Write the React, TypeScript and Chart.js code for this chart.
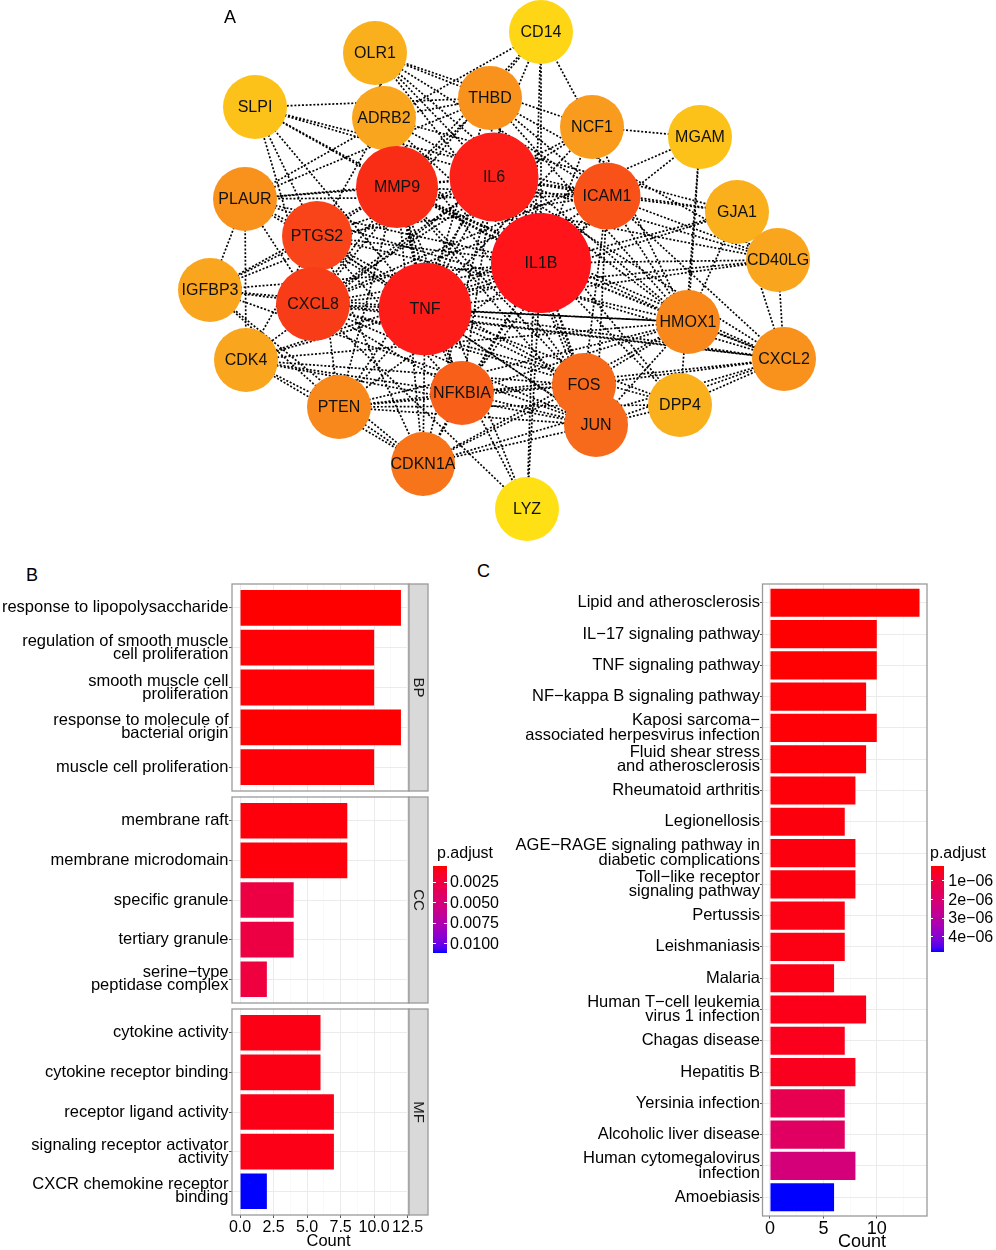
import React, { useEffect, useRef } from "react";
import { Chart, registerables } from "chart.js";

Chart.register(...registerables);

const FONT = "'Liberation Sans', Arial, Helvetica, sans-serif";
Chart.defaults.font.family = FONT;

/* ================= Panel A : PPI network ================= */
const NODE_NAMES = ["CD14", "OLR1", "SLPI", "ADRB2", "THBD", "NCF1", "MGAM", "IL6", "MMP9", "ICAM1", "PLAUR", "GJA1", "PTGS2", "IL1B", "CD40LG", "IGFBP3", "CXCL8", "TNF", "HMOX1", "CDK4", "CXCL2", "FOS", "NFKBIA", "PTEN", "DPP4", "JUN", "CDKN1A", "LYZ"];
// layout coordinates of the network (x to the right, y downwards)
const NODE_X = [541, 375, 255, 384, 490, 592, 700, 494, 397, 607, 245, 737, 317, 541, 778, 210, 313, 425, 688, 246, 784, 584, 462, 339, 680, 596, 423, 527];
const NODE_Y = [32, 53, 107, 118, 98, 127, 137, 177, 187, 196, 199, 212, 236, 263, 260, 290, 304, 309, 322, 360, 359, 385, 393, 407, 405, 425, 464, 509];
// connectivity degree (drives node colour and size)
const NODE_DEGREE = [4, 8, 6, 9, 11, 10, 6, 24, 21, 17, 11, 8, 18, 27, 9, 9, 19, 25, 12, 9, 11, 15, 16, 12, 8, 15, 14, 3];

const EDGES = [
  "IL1B-TNF", "IL1B-IL6", "IL1B-MMP9", "IL1B-ICAM1", "IL1B-PTGS2", "IL1B-CXCL8", "IL1B-NFKBIA", "IL1B-FOS", "IL1B-JUN", "IL1B-CDKN1A", "IL1B-HMOX1", "IL1B-PTEN", "IL1B-THBD", "IL1B-NCF1", "IL1B-PLAUR", "IL1B-CXCL2", "IL1B-ADRB2", "IL1B-CDK4", "IL1B-IGFBP3", "IL1B-OLR1", "IL1B-GJA1", "IL1B-CD40LG", "IL1B-DPP4", "IL1B-SLPI", "IL1B-MGAM", "IL1B-CD14", "IL1B-LYZ",
  "TNF-IL6", "TNF-MMP9", "TNF-ICAM1", "TNF-PTGS2", "TNF-CXCL8", "TNF-NFKBIA", "TNF-FOS", "TNF-JUN", "TNF-CDKN1A", "TNF-HMOX1", "TNF-PTEN", "TNF-THBD", "TNF-NCF1", "TNF-PLAUR", "TNF-CXCL2", "TNF-ADRB2", "TNF-CDK4", "TNF-IGFBP3", "TNF-OLR1", "TNF-GJA1", "TNF-CD40LG", "TNF-DPP4", "TNF-SLPI", "TNF-CD14", "TNF-LYZ",
  "IL6-MMP9", "IL6-ICAM1", "IL6-PTGS2", "IL6-CXCL8", "IL6-NFKBIA", "IL6-FOS", "IL6-JUN", "IL6-CDKN1A", "IL6-HMOX1", "IL6-PTEN", "IL6-THBD", "IL6-NCF1", "IL6-PLAUR", "IL6-CXCL2", "IL6-ADRB2", "IL6-CDK4", "IL6-IGFBP3", "IL6-OLR1", "IL6-GJA1", "IL6-CD40LG", "IL6-DPP4", "IL6-SLPI",
  "MMP9-ICAM1", "MMP9-PTGS2", "MMP9-CXCL8", "MMP9-NFKBIA", "MMP9-FOS", "MMP9-JUN", "MMP9-CDKN1A", "MMP9-HMOX1", "MMP9-PTEN", "MMP9-THBD", "MMP9-PLAUR", "MMP9-CXCL2", "MMP9-IGFBP3", "MMP9-OLR1", "MMP9-CD40LG", "MMP9-SLPI", "MMP9-CD14", "MMP9-LYZ",
  "ICAM1-PTGS2", "ICAM1-CXCL8", "ICAM1-NFKBIA", "ICAM1-FOS", "ICAM1-JUN", "ICAM1-HMOX1", "ICAM1-THBD", "ICAM1-NCF1", "ICAM1-PLAUR", "ICAM1-CXCL2", "ICAM1-OLR1", "ICAM1-GJA1", "ICAM1-CD40LG", "ICAM1-SLPI",
  "PTGS2-CXCL8", "PTGS2-NFKBIA", "PTGS2-FOS", "PTGS2-JUN", "PTGS2-CDKN1A", "PTGS2-HMOX1", "PTGS2-PTEN", "PTGS2-PLAUR", "PTGS2-ADRB2", "PTGS2-CDK4", "PTGS2-IGFBP3", "PTGS2-SLPI",
  "CXCL8-NFKBIA", "CXCL8-FOS", "CXCL8-JUN", "CXCL8-HMOX1", "CXCL8-NCF1", "CXCL8-PLAUR", "CXCL8-CXCL2", "CXCL8-CD40LG", "CXCL8-SLPI", "CXCL8-CD14", "CXCL8-DPP4", "CXCL8-MGAM", "CXCL8-LYZ",
  "NFKBIA-FOS", "NFKBIA-JUN", "NFKBIA-CDKN1A", "NFKBIA-HMOX1", "NFKBIA-PTEN", "NFKBIA-CDK4", "NFKBIA-CXCL2",
  "FOS-JUN", "FOS-CDKN1A", "FOS-HMOX1", "FOS-PTEN", "FOS-CDK4", "FOS-CXCL2", "FOS-ADRB2",
  "JUN-CDKN1A", "JUN-HMOX1", "JUN-PTEN", "JUN-CDK4", "JUN-CXCL2", "JUN-IGFBP3", "JUN-DPP4",
  "CDKN1A-HMOX1", "CDKN1A-PTEN", "CDKN1A-CDK4", "CDKN1A-IGFBP3", "CDKN1A-CXCL2",
  "HMOX1-PTEN", "HMOX1-NCF1", "HMOX1-THBD", "HMOX1-GJA1", "HMOX1-CXCL2", "HMOX1-CDK4", "HMOX1-OLR1", "HMOX1-MGAM",
  "PTEN-CDK4", "PTEN-IGFBP3", "PTEN-DPP4", "THBD-PLAUR", "THBD-CD40LG", "THBD-OLR1", "THBD-SLPI", "THBD-ADRB2",
  "NCF1-MGAM", "NCF1-CD14", "NCF1-OLR1", "PLAUR-IGFBP3", "PLAUR-CDK4", "PLAUR-CXCL2", "ADRB2-GJA1", "ADRB2-OLR1",
  "CD14-LYZ", "CD14-PLAUR", "MGAM-DPP4", "CXCL2-DPP4", "GJA1-CD40LG", "GJA1-CXCL2", "CD40LG-CXCL2", "IGFBP3-CXCL2",
];

/* ================= Panel B : GO enrichment ================= */
const BP_TERMS = ["response to lipopolysaccharide", "regulation of smooth muscle\ncell proliferation", "smooth muscle cell\nproliferation", "response to molecule of\nbacterial origin", "muscle cell proliferation"];
const BP_COUNT = [12, 10, 10, 12, 10];
const BP_PADJ = [0.00052, 0.0006, 0.0006, 0.00055, 0.00065];

const CC_TERMS = ["membrane raft", "membrane microdomain", "specific granule", "tertiary granule", "serine\u2212type\npeptidase complex"];
const CC_COUNT = [8, 8, 4, 4, 2];
const CC_PADJ = [0.0007, 0.0007, 0.0026, 0.0026, 0.0024];

const MF_TERMS = ["cytokine activity", "cytokine receptor binding", "receptor ligand activity", "signaling receptor activator\nactivity", "CXCR chemokine receptor\nbinding"];
const MF_COUNT = [6, 6, 7, 7, 2];
const MF_PADJ = [0.0009, 0.0009, 0.00095, 0.00095, 0.01106];

const B_X_TICKS = [0, 2.5, 5, 7.5, 10, 12.5];
const B_X_MINOR = [1.25, 3.75, 6.25, 8.75, 11.25];
const B_PADJ_TICKS = [0.0025, 0.005, 0.0075, 0.01];

/* ================= Panel C : KEGG enrichment ================= */
const C_TERMS = ["Lipid and atherosclerosis", "IL\u221217 signaling pathway", "TNF signaling pathway", "NF\u2212kappa B signaling pathway", "Kaposi sarcoma\u2212\nassociated herpesvirus infection", "Fluid shear stress\nand atherosclerosis", "Rheumatoid arthritis", "Legionellosis", "AGE\u2212RAGE signaling pathway in\ndiabetic complications", "Toll\u2212like receptor\nsignaling pathway", "Pertussis", "Leishmaniasis", "Malaria", "Human T\u2212cell leukemia\nvirus 1 infection", "Chagas disease", "Hepatitis B", "Yersinia infection", "Alcoholic liver disease", "Human cytomegalovirus\ninfection", "Amoebiasis"];
const C_COUNT = [14, 10, 10, 9, 10, 9, 8, 7, 8, 8, 7, 7, 6, 9, 7, 8, 7, 7, 8, 6];
const C_PADJ = [1.76e-7, 1.9e-7, 1.95e-7, 2.1e-7, 2.2e-7, 2.3e-7, 2.5e-7, 2.7e-7, 2.9e-7, 3.0e-7, 3.3e-7, 3.4e-7, 3.6e-7, 3.8e-7, 4.4e-7, 4.8e-7, 1.35e-6, 1.7e-6, 2.2e-6, 4.84e-6];
const C_X_TICKS = [0, 5, 10];
const C_X_MINOR = [2.5, 7.5, 12.5];
const C_PADJ_TICKS = [1e-6, 2e-6, 3e-6, 4e-6];

/* ================= styling helpers ================= */
const DEGREE_COLOR_STOPS: [number, string][] = [[3, "#FFE014"], [6, "#FCC21A"], [9, "#F9A51D"], [12, "#F8881C"], [16, "#F8601A"], [18, "#F84418"], [21, "#F92C16"], [27, "#FF1419"]];
const DEGREE_RADIUS_STOPS: [number, number][] = [[0, 32], [16, 32], [18, 35], [21, 41], [24, 44.5], [27, 50]];

function hexRgb(h: string) {
  return [parseInt(h.slice(1, 3), 16), parseInt(h.slice(3, 5), 16), parseInt(h.slice(5, 7), 16)];
}
function degColor(d: number) {
  const s = DEGREE_COLOR_STOPS;
  if (d <= s[0][0]) return s[0][1];
  for (let i = 1; i < s.length; i++) {
    if (d <= s[i][0]) {
      const t = (d - s[i - 1][0]) / (s[i][0] - s[i - 1][0]);
      const a = hexRgb(s[i - 1][1]), b = hexRgb(s[i][1]);
      const c = a.map((v, k) => Math.round(v + (b[k] - v) * t));
      return `rgb(${c[0]},${c[1]},${c[2]})`;
    }
  }
  return s[s.length - 1][1];
}
function degRadius(d: number) {
  const s = DEGREE_RADIUS_STOPS;
  for (let i = 1; i < s.length; i++) {
    if (d <= s[i][0]) {
      const t = (d - s[i - 1][0]) / (s[i][0] - s[i - 1][0]);
      return s[i - 1][1] + (s[i][1] - s[i - 1][1]) * t;
    }
  }
  return s[s.length - 1][1];
}

// CIELAB interpolation red -> blue (like ggplot's continuous colour scale)
function rgbToLab(rgb: number[]) {
  const lin = (c: number) => { c /= 255; return c <= 0.04045 ? c / 12.92 : Math.pow((c + 0.055) / 1.055, 2.4); };
  const [R, G, B] = rgb.map(lin);
  const X = (0.4124564 * R + 0.3575761 * G + 0.1804375 * B) / 0.95047;
  const Y = 0.2126729 * R + 0.7151522 * G + 0.072175 * B;
  const Z = (0.0193339 * R + 0.119192 * G + 0.9503041 * B) / 1.08883;
  const f = (t: number) => (t > 216 / 24389 ? Math.cbrt(t) : (24389 / 27 * t + 16) / 116);
  const fx = f(X), fy = f(Y), fz = f(Z);
  return [116 * fy - 16, 500 * (fx - fy), 200 * (fy - fz)];
}
function labToRgb(lab: number[]) {
  const [L, a, b] = lab;
  const fy = (L + 16) / 116, fx = fy + a / 500, fz = fy - b / 200;
  const inv = (t: number) => (t * t * t > 216 / 24389 ? t * t * t : (116 * t - 16) / (24389 / 27));
  const X = inv(fx) * 0.95047, Y = inv(fy), Z = inv(fz) * 1.08883;
  const R = 3.2404542 * X - 1.5371385 * Y - 0.4985314 * Z;
  const G = -0.969266 * X + 1.8760108 * Y + 0.041556 * Z;
  const B = 0.0556434 * X - 0.2040259 * Y + 1.0572252 * Z;
  const gam = (c: number) => { c = Math.min(1, Math.max(0, c)); return c <= 0.0031308 ? 12.92 * c : 1.055 * Math.pow(c, 1 / 2.4) - 0.055; };
  return [R, G, B].map((v) => Math.round(gam(v) * 255));
}
const LAB_LOW = rgbToLab([255, 0, 0]);
const LAB_HIGH = rgbToLab([0, 0, 255]);
function rampColor(t: number) {
  const c = labToRgb(LAB_LOW.map((v, k) => v + (LAB_HIGH[k] - v) * t));
  return `rgb(${c[0]},${c[1]},${c[2]})`;
}

const B_ALL_PADJ = [...BP_PADJ, ...CC_PADJ, ...MF_PADJ];
const B_PMIN = Math.min(...B_ALL_PADJ), B_PMAX = Math.max(...B_ALL_PADJ);
const C_PMIN = Math.min(...C_PADJ), C_PMAX = Math.max(...C_PADJ);
const colorsFor = (ps: number[], lo: number, hi: number) => ps.map((p) => rampColor((p - lo) / (hi - lo)));

/* ================= plugins ================= */
const nodeLabelPlugin = {
  id: "nodeLabels",
  afterDatasetsDraw(chart: any) {
    const meta = chart.getDatasetMeta(1);
    const ctx = chart.ctx;
    ctx.save();
    ctx.font = `16px ${FONT}`;
    ctx.fillStyle = "#111";
    ctx.textAlign = "center";
    ctx.textBaseline = "middle";
    meta.data.forEach((el: any, i: number) => ctx.fillText(NODE_NAMES[i], el.x, el.y + 1));
    ctx.restore();
  },
};

const panelPlugin = {
  id: "panelDeco",
  afterDraw(chart: any, _args: any, opts: any) {
    const { ctx, chartArea: a } = chart;
    ctx.save();
    ctx.strokeStyle = "#9a9a9a";
    ctx.lineWidth = 1.3;
    ctx.strokeRect(a.left, a.top, a.right - a.left, a.bottom - a.top);
    if (opts && opts.strip) {
      const w = 19;
      ctx.fillStyle = "#D9D9D9";
      ctx.fillRect(a.right, a.top, w, a.bottom - a.top);
      ctx.strokeRect(a.right, a.top, w, a.bottom - a.top);
      ctx.translate(a.right + w / 2, (a.top + a.bottom) / 2);
      ctx.rotate(Math.PI / 2);
      ctx.fillStyle = "#1a1a1a";
      ctx.font = `15px ${FONT}`;
      ctx.textAlign = "center";
      ctx.textBaseline = "middle";
      ctx.fillText(opts.strip, 0, 0);
    }
    ctx.restore();
  },
};

/* ================= configs ================= */
function makeNetworkConfig(): any {
  const idx = new Map(NODE_NAMES.map((n, i) => [n, i]));
  const edgePts: any[] = [];
  EDGES.forEach((e) => {
    const [a, b] = e.split("-").map((n) => idx.get(n) as number);
    edgePts.push({ x: NODE_X[a], y: NODE_Y[a] }, { x: NODE_X[b], y: NODE_Y[b] }, { x: NaN, y: NaN });
  });
  const nodes = NODE_NAMES.map((_, i) => ({ x: NODE_X[i], y: NODE_Y[i], r: degRadius(NODE_DEGREE[i]) }));
  return {
    type: "scatter",
    data: {
      datasets: [
        { type: "scatter", data: edgePts, showLine: true, spanGaps: false, borderColor: "#000", borderWidth: 1.7, borderDash: [2, 1.8], pointRadius: 0, pointHoverRadius: 0, order: 2, clip: false },
        { type: "bubble", data: nodes, backgroundColor: NODE_DEGREE.map(degColor), borderWidth: 0, hoverBorderWidth: 0, order: 1, clip: false },
      ],
    },
    options: {
      animation: false, responsive: false, events: [],
      layout: { padding: 0, autoPadding: false },
      plugins: { legend: { display: false }, tooltip: { enabled: false } },
      scales: {
        x: { type: "linear", display: false, min: 0, max: 996 },
        y: { type: "linear", display: false, min: 0, max: 545, reverse: true },
      },
    },
    plugins: [nodeLabelPlugin],
  };
}

type BarSpec = {
  terms: string[]; counts: number[]; colors: string[];
  xMin: number; xMax: number; majors: number[]; minors: number[];
  fmt: (v: number) => string; showX: boolean; xHeight: number; yWidth: number;
  padding: any; yFont: number; yLine: number; xFont: number;
  tickLen: number; xTickPad: number; yTickPad: number; strip?: string;
};

function makeBarConfig(s: BarSpec): any {
  const n = s.terms.length;
  const isMajor = (v: any) => s.majors.includes(v);
  return {
    type: "bar",
    data: {
      datasets: [{ data: s.counts.map((c, i) => ({ x: c, y: i })), backgroundColor: s.colors, borderWidth: 0, barPercentage: 0.9, categoryPercentage: 1 }],
    },
    options: {
      indexAxis: "y", animation: false, responsive: false, events: [],
      layout: { padding: s.padding, autoPadding: false },
      plugins: { legend: { display: false }, tooltip: { enabled: false }, panelDeco: { strip: s.strip } },
      scales: {
        x: {
          type: "linear", position: "bottom", min: s.xMin, max: s.xMax, offset: false,
          afterBuildTicks: (sc: any) => { sc.ticks = [...s.majors, ...s.minors].sort((a, b) => a - b).map((v) => ({ value: v })); },
          afterFit: (sc: any) => { sc.height = s.xHeight; sc.paddingLeft = 0; sc.paddingRight = 0; },
          ticks: { display: s.showX, autoSkip: false, maxRotation: 0, minRotation: 0, padding: s.xTickPad, color: "#000", font: { size: s.xFont, lineHeight: 1.2 }, callback: (v: any) => (isMajor(v) ? s.fmt(v) : "") },
          grid: {
            offset: false, drawTicks: s.showX, tickLength: s.tickLen, tickWidth: 1,
            color: (c: any) => (isMajor(c.tick && c.tick.value) ? "#EBEBEB" : "#F5F5F5"),
            lineWidth: (c: any) => (isMajor(c.tick && c.tick.value) ? 1 : 0.6),
            tickColor: (c: any) => (isMajor(c.tick && c.tick.value) ? "#555" : "rgba(0,0,0,0)"),
          },
          border: { display: false },
          title: { display: false },
        },
        y: {
          type: "linear", min: -0.6, max: n - 0.4, reverse: true, offset: false,
          afterBuildTicks: (sc: any) => { sc.ticks = s.terms.map((_, i) => ({ value: i })); },
          afterFit: (sc: any) => { sc.width = s.yWidth; sc.paddingTop = 0; sc.paddingBottom = 0; },
          ticks: { autoSkip: false, padding: s.yTickPad, color: "#000", font: { size: s.yFont, lineHeight: s.yLine }, callback: (v: any) => s.terms[v].split("\n") },
          grid: { offset: false, color: "#EBEBEB", lineWidth: 1, tickLength: s.tickLen, tickColor: "#555", tickWidth: 1 },
          border: { display: false },
        },
      },
    },
    plugins: [panelPlugin],
  };
}

const fmtB = (v: number) => v.toFixed(1);
const fmtC = (v: number) => String(v);

function facet(terms: string[], counts: number[], padj: number[], strip: string, showX: boolean, padding: any, xHeight: number): any {
  return makeBarConfig({
    terms, counts, colors: colorsFor(padj, B_PMIN, B_PMAX),
    xMin: -0.6, xMax: 12.6, majors: B_X_TICKS, minors: B_X_MINOR, fmt: fmtB,
    showX, xHeight, yWidth: 232, padding, yFont: 16.5, yLine: 0.79, xFont: 16,
    tickLen: 3, xTickPad: 0, yTickPad: 0.5, strip,
  });
}

/* ================= React ================= */
function ChartCanvas({ left, top, width, height, make }: any) {
  const ref = useRef<HTMLCanvasElement>(null);
  useEffect(() => {
    const chart = new Chart(ref.current as HTMLCanvasElement, make());
    return () => chart.destroy();
  }, []);
  return <canvas ref={ref} width={width} height={height} style={{ position: "absolute", left, top, width, height }} />;
}

function ColorLegend({ barLeft, barTop, barW, barH, titleLeft, titleY, labelLeft, vmin, vmax, ticks, fmt }: any) {
  const stops = Array.from({ length: 21 }, (_, k) => `${rampColor(k / 20)} ${k * 5}%`).join(", ");
  const txt = { position: "absolute" as const, font: `16px ${FONT}`, lineHeight: "18px", color: "#000", whiteSpace: "nowrap" as const };
  return (
    <>
      <div style={{ ...txt, left: titleLeft, top: titleY - 9 }}>p.adjust</div>
      <div style={{ position: "absolute", left: barLeft, top: barTop, width: barW, height: barH, background: `linear-gradient(to bottom, ${stops})` }} />
      {ticks.map((v: number) => {
        const y = barTop + ((v - vmin) / (vmax - vmin)) * barH;
        return (
          <React.Fragment key={v}>
            <div style={{ position: "absolute", left: barLeft, top: y - 0.5, width: barW / 5, height: 1, background: "#fff" }} />
            <div style={{ position: "absolute", left: barLeft + barW - barW / 5, top: y - 0.5, width: barW / 5, height: 1, background: "#fff" }} />
            <div style={{ ...txt, left: labelLeft, top: y - 9 }}>{fmt(v)}</div>
          </React.Fragment>
        );
      })}
    </>
  );
}

const textAt = (t: string, cx: number, cy: number, size: number, anchor: "left" | "center") => (
  <div style={{ position: "absolute", left: anchor === "center" ? cx - 100 : cx, width: anchor === "center" ? 200 : undefined, textAlign: anchor, top: cy - size * 0.6, font: `${size}px ${FONT}`, lineHeight: `${size * 1.2}px`, color: "#000", whiteSpace: "nowrap" }}>{t}</div>
);

export default function App() {
  return (
    <div style={{ position: "absolute", left: 0, top: 0, width: 996, height: 1250, background: "#fff", overflow: "hidden" }}>
      <ChartCanvas left={0} top={0} width={996} height={545} make={makeNetworkConfig} />
      {textAt("A", 224, 18, 18, "left")}
      {textAt("B", 26, 576, 18, "left")}
      {textAt("C", 477, 572, 18, "left")}

      <ChartCanvas left={0} top={578} width={440} height={220} make={() => facet(BP_TERMS, BP_COUNT, BP_PADJ, "BP", false, { top: 6, bottom: 7, left: 0, right: 31 }, 0)} />
      <ChartCanvas left={0} top={790} width={440} height={220} make={() => facet(CC_TERMS, CC_COUNT, CC_PADJ, "CC", false, { top: 7, bottom: 7, left: 0, right: 31 }, 0)} />
      <ChartCanvas left={0} top={1002} width={440} height={248} make={() => facet(MF_TERMS, MF_COUNT, MF_PADJ, "MF", true, { top: 7, bottom: 0, left: 0, right: 31 }, 35)} />
      {textAt("Count", 328.5, 1241, 16.5, "center")}

      <ColorLegend barLeft={433.3} barTop={866} barW={13.4} barH={86.7} titleLeft={437} titleY={852.7} labelLeft={450}
        vmin={B_PMIN} vmax={B_PMAX} ticks={B_PADJ_TICKS} fmt={(v: number) => v.toFixed(4)} />

      <ChartCanvas left={470} top={578} width={480} height={672} make={() => makeBarConfig({
        terms: C_TERMS, counts: C_COUNT, colors: colorsFor(C_PADJ, C_PMIN, C_PMAX),
        xMin: -0.7, xMax: 14.7, majors: C_X_TICKS, minors: C_X_MINOR, fmt: fmtC,
        showX: true, xHeight: 34, yWidth: 292.5, padding: { top: 6, bottom: 0, left: 0, right: 23 },
        yFont: 16.5, yLine: 0.867, xFont: 18, tickLen: 2.5, xTickPad: 0, yTickPad: 0,
      })} />
      {textAt("Count", 862, 1242, 18, "center")}

      <ColorLegend barLeft={930.7} barTop={865.7} barW={13.6} barH={86.6} titleLeft={930} titleY={853} labelLeft={948.3}
        vmin={C_PMIN} vmax={C_PMAX} ticks={C_PADJ_TICKS} fmt={(v: number) => `${Math.round(v * 1e6)}e\u221206`} />
    </div>
  );
}
